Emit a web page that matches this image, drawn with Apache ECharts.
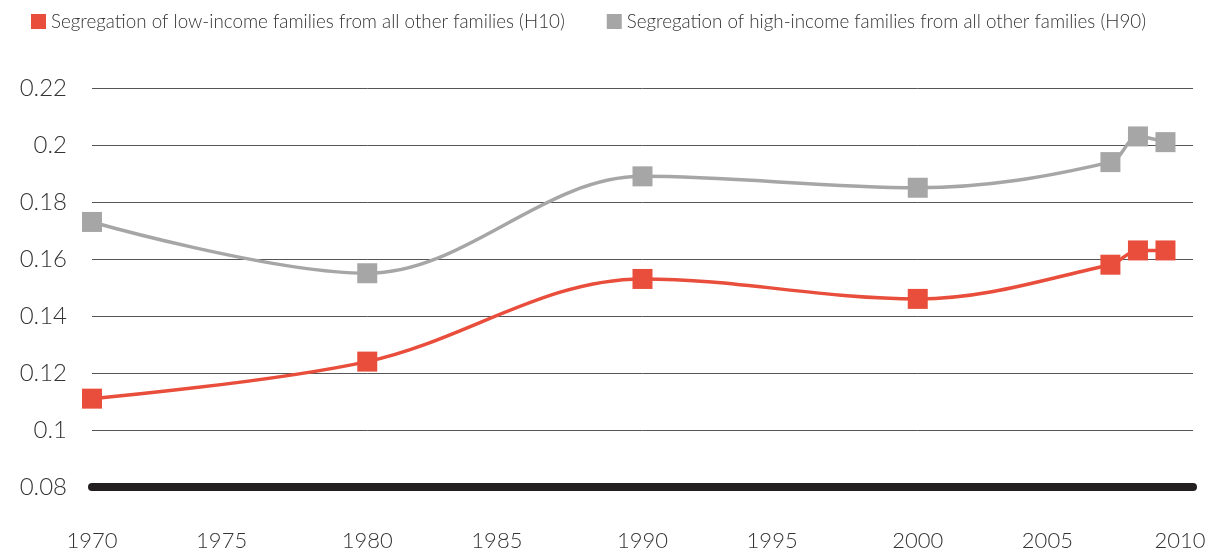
<!DOCTYPE html>
<html>
<head>
<meta charset="utf-8">
<script src="https://cdn.jsdelivr.net/npm/echarts@6/dist/echarts.min.js"></script>
<style>
    html, body { margin: 0; padding: 0; background: #fff; }
    #chart { width: 1212px; height: 555px; }
</style>
</head>
<body>
<div id="chart"></div>
<script>
const years = [1970, 1980, 1990, 2000, 2007, 2008, 2009]
const lowIncome = [0.111, 0.124, 0.153, 0.146, 0.158, 0.163, 0.163]
const highIncome = [0.173, 0.155, 0.189, 0.185, 0.194, 0.203, 0.201]
const seriesNames = [
    'Segregation of low-income families from all other families (H10)',
    'Segregation of high-income families from all other families (H90)'
]

const font = 'Lato, "Open Sans", sans-serif'
const pairs = (vals) => years.map((y, i) => [y, vals[i]])

let chart = echarts.init(document.getElementById('chart'))
let option = {
    animation: false,
    color: ['#e84e3b', '#a6a6a6'],
    legend: {
        left: 26,
        top: 7,
        icon: 'rect',
        itemWidth: 15,
        itemHeight: 15,
        itemGap: 42,
        textStyle: { fontFamily: font, fontWeight: 300, fontSize: 18.8, color: '#333' },
        data: seriesNames
    },
    grid: { left: 92, right: 19, top: 88, bottom: 68, outerBoundsMode: 'none' },
    xAxis: {
        type: 'value',
        min: 1970,
        max: 2010,
        interval: 5,
        splitLine: { show: false },
        axisTick: { show: false },
        axisLine: { show: true, lineStyle: { color: '#231f20', width: 8, cap: 'round' } },
        axisLabel: {
            margin: 43,
            fontFamily: font,
            fontWeight: 300,
            fontSize: 22,
            color: '#333',
            formatter: v => {
                if (v === 2010) return '{end|' + v + '}'
                return v % 10 ? '{half|' + v + '}' : String(v)
            },
            rich: {
                half: { fontFamily: font, fontWeight: 300, fontSize: 22, color: '#333', padding: [0, 16, 0, 0] },
                end: { fontFamily: font, fontWeight: 300, fontSize: 22, color: '#333', padding: [0, 26, 0, 0] }
            }
        }
    },
    yAxis: {
        type: 'value',
        min: 0.08,
        max: 0.22,
        interval: 0.02,
        axisLine: { show: false },
        axisTick: { show: false },
        splitLine: { lineStyle: { color: '#555', width: 1 } },
        axisLabel: {
            margin: 25,
            fontFamily: font,
            fontWeight: 300,
            fontSize: 24,
            color: '#333',
            formatter: v => String(+v.toFixed(2))
        }
    },
    series: [
        {
            name: seriesNames[0],
            type: 'line',
            smooth: 0.35,
            data: pairs(lowIncome),
            symbol: 'rect',
            symbolSize: 20,
            lineStyle: { width: 3.5 },
            z: 3
        },
        {
            name: seriesNames[1],
            type: 'line',
            smooth: 0.35,
            data: pairs(highIncome),
            symbol: 'rect',
            symbolSize: 20,
            lineStyle: { width: 3.5 },
            z: 3
        }
    ]
}
chart.setOption(option)
window.addEventListener('resize', () => {
    chart.resize()
})
</script>
</body>
</html>
